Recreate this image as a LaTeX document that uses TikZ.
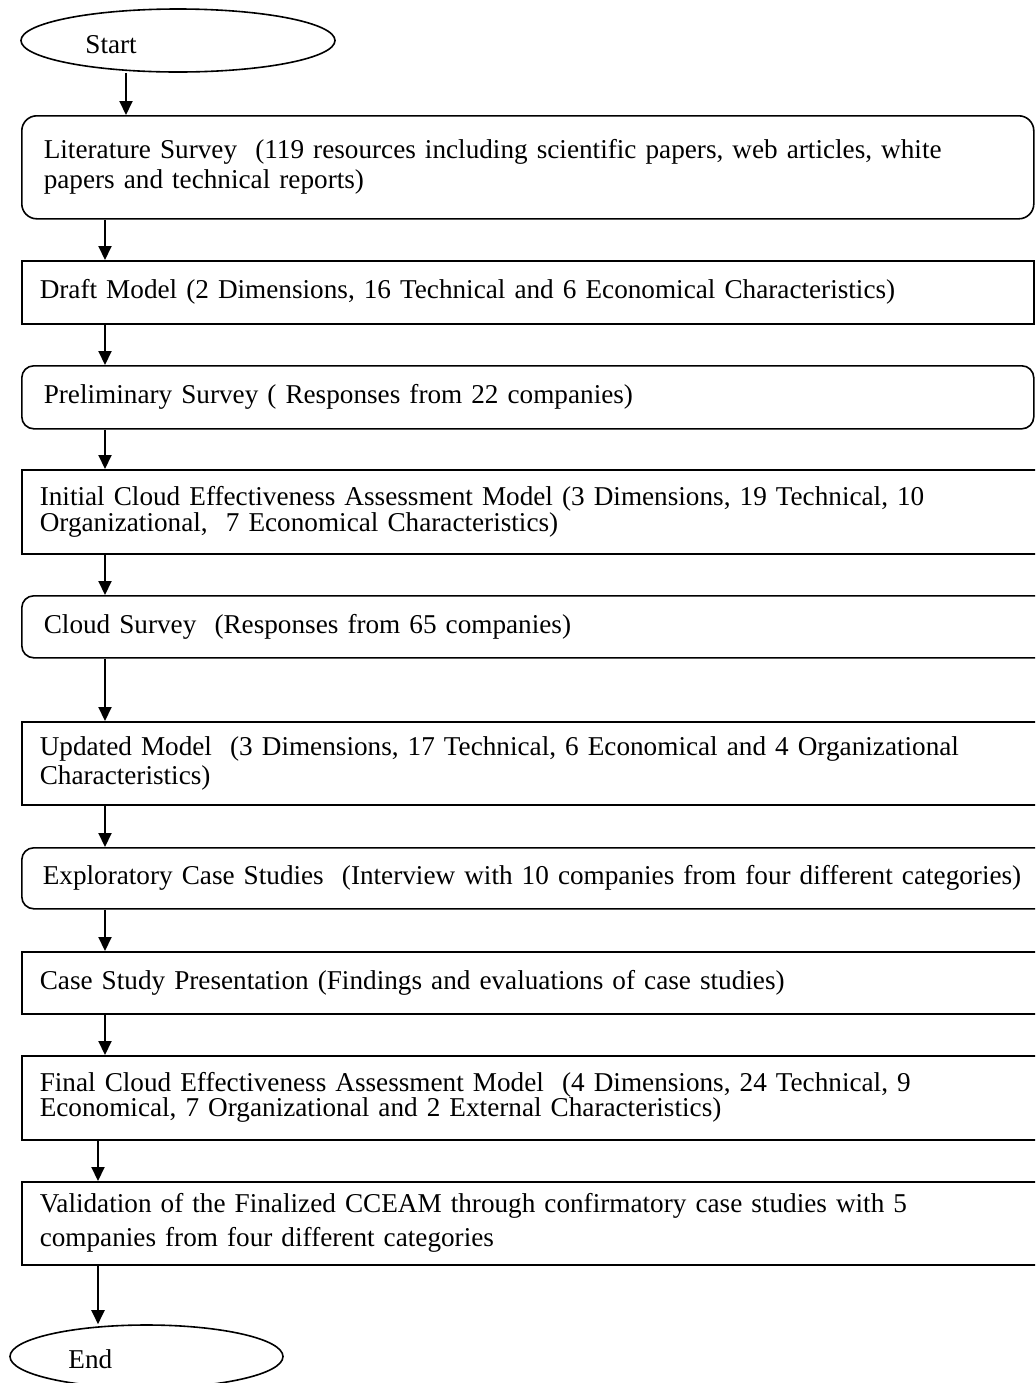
\documentclass[tikz,border=0pt]{standalone}
\usepackage{fontspec}
\setmainfont{Liberation Serif}
\usetikzlibrary{arrows.meta,shapes.geometric}
\begin{document}
\begin{tikzpicture}[x=0.5pt,y=-0.5pt,
  txt/.style={font=\fontsize{13.6pt}{13pt}\selectfont},
  box/.style={draw,line width=0.8pt,rectangle,anchor=north west,align=left,inner ysep=0pt,font=\fontsize{13.6pt}{13pt}\selectfont},
  sqbox/.style={box,inner xsep=9pt},
  rbox/.style={box,rounded corners=6pt,inner xsep=11pt},
  arr/.style={draw,line width=1pt,-{Triangle[width=6.5pt,length=7pt]}},
  term/.style={draw,ellipse,line width=0.8pt,inner sep=0pt}]
\useasboundingbox (0,0) rectangle (1035,1383);
\clip (0,0) rectangle (1035,1383);
\fill[white] (0,0) rectangle (1035,1383);

\node[term,minimum width=157pt,minimum height=31.5pt] (start) at (178,40.5) {};
\node[txt,anchor=base west,inner sep=0pt] (startlbl) at (85,53) {Start};

\node[rbox,rounded corners=7.5pt,minimum width=506pt,minimum height=51.5pt,text width=484pt] (lit) at (21,115)
  {Literature Survey\ \ (119 resources including scientific papers, web articles, white\\[2pt]
   papers and technical reports)};
\node[sqbox,minimum width=506pt,minimum height=31.5pt,text width=488pt] (draft) at (21,260)
  {Draft Model (2 Dimensions, 16 Technical and 6 Economical Characteristics)};
\node[rbox,minimum width=506pt,minimum height=31.5pt,text width=484pt] (prelim) at (21,365)
  {Preliminary Survey ( Responses from 22 companies)};
\node[sqbox,minimum width=519.5pt,minimum height=42pt,text width=560pt] (init) at (21,469)
  {Initial Cloud Effectiveness Assessment Model (3 Dimensions, 19 Technical, 10\\
   Organizational,\ \ 7 Economical Characteristics)};
\node[rbox,minimum width=519.5pt,minimum height=31pt,text width=560pt] (cloud) at (21,595)
  {Cloud Survey\ \ (Responses from 65 companies)};
\node[sqbox,minimum width=519.5pt,minimum height=41.5pt,text width=560pt] (upd) at (21,721)
  {Updated Model\ \ (3 Dimensions, 17 Technical, 6 Economical and 4 Organizational\\[1.5pt]
   Characteristics)};
\node[rbox,inner xsep=10.5pt,minimum width=519.5pt,minimum height=30.5pt,text width=560pt] (expl) at (21,847)
  {Exploratory Case Studies\ \ (Interview with 10 companies from four different categories)};
\node[sqbox,minimum width=519.5pt,minimum height=31pt,text width=560pt] (csp) at (21,951)
  {Case Study Presentation (Findings and evaluations of case studies)};
\node[sqbox,minimum width=519.5pt,minimum height=42pt,text width=560pt] (final) at (21,1055)
  {Final Cloud Effectiveness Assessment Model\ \ (4 Dimensions, 24 Technical, 9\\[-0.5pt]
   Economical, 7 Organizational and 2 External Characteristics)};
\node[sqbox,minimum width=519.5pt,minimum height=41.5pt,text width=560pt] (valid) at (21,1181)
  {Validation of the Finalized CCEAM through confirmatory case studies with 5\\[4pt]
   companies from four different categories};

\node[term,minimum width=136.5pt,minimum height=31.5pt] (end) at (146.5,1356.5) {};
\node[txt,anchor=base west,inner sep=0pt] (endlbl) at (68,1368) {End};

\coordinate (c1) at (126,0);
\coordinate (c2) at (105,0);
\coordinate (c3) at (98,0);

\draw[arr] (start.south -| c1) -- (lit.north -| c1);
\draw[arr] (lit.south -| c2) -- (draft.north -| c2);
\draw[arr] (draft.south -| c2) -- (prelim.north -| c2);
\draw[arr] (prelim.south -| c2) -- (init.north -| c2);
\draw[arr] (init.south -| c2) -- (cloud.north -| c2);
\draw[arr] (cloud.south -| c2) -- (upd.north -| c2);
\draw[arr] (upd.south -| c2) -- (expl.north -| c2);
\draw[arr] (expl.south -| c2) -- (csp.north -| c2);
\draw[arr] (csp.south -| c2) -- (final.north -| c2);
\draw[arr] (final.south -| c3) -- (valid.north -| c3);
\draw[arr] (valid.south -| c3) -- (end.north -| c3);
\end{tikzpicture}
\end{document}
